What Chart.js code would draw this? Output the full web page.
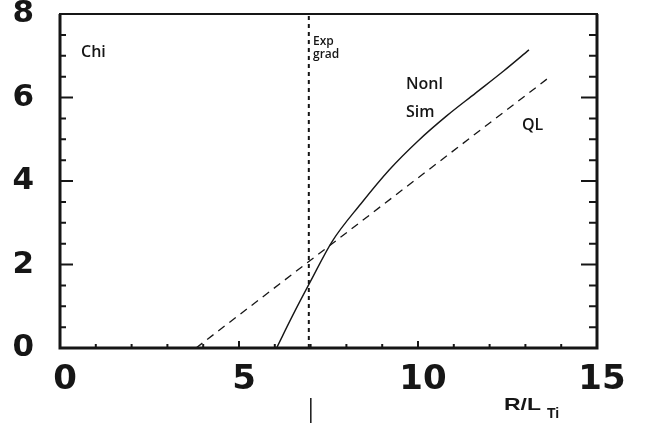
<!DOCTYPE html>
<html>
<head>
<meta charset="utf-8">
<script src="https://cdn.jsdelivr.net/npm/chart.js@4"></script>
<style>
  html, body { margin: 0; padding: 0; background: #fff; }
  #wrap { width: 651px; height: 428px; }
</style>
</head>
<body>
<div id="wrap"><canvas id="chart"></canvas></div>
<script>
// values
const simX = [6.05, 6.5, 7.0, 7.6, 8.4, 9.2, 10.0, 10.8, 11.6, 12.4, 13.1];
const simY = [0, 0.78, 1.6, 2.55, 3.45, 4.27, 4.96, 5.56, 6.1, 6.64, 7.14];
const qlX = [3.8, 13.6];
const qlY = [0, 6.44];
const expX = [6.95, 6.95];
const expY = [0, 8];
const xTicks = [0, 5, 10, 15];
const yTicks = [0, 2, 4, 6, 8];

const ink = "#161616";
const toPts = (xs, ys) => xs.map((x, i) => ({ x: x, y: ys[i] }));

// frame, inward ticks, notes and axis title
const framePlugin = {
    id: "frame",
    afterDraw(chart) {
        const ctx = chart.ctx;
        const a = chart.chartArea;
        const xs = chart.scales.x, ys = chart.scales.y;
        ctx.save();
        ctx.strokeStyle = ink;
        ctx.lineCap = "butt";

        // borders
        ctx.lineWidth = 3;
        ctx.beginPath();
        ctx.moveTo(a.left, a.top); ctx.lineTo(a.left, a.bottom); ctx.lineTo(a.right, a.bottom); ctx.lineTo(a.right, a.top);
        ctx.stroke();
        ctx.lineWidth = 2;
        ctx.beginPath();
        ctx.moveTo(a.left - 1, a.top); ctx.lineTo(a.right + 1, a.top);
        ctx.stroke();

        // y ticks every 0.5, long at labelled values
        ctx.lineWidth = 2;
        for (let v = 0.5; v < 8; v += 0.5) {
            const py = ys.getPixelForValue(v);
            const major = yTicks.includes(v);
            ctx.beginPath();
            ctx.moveTo(a.left, py); ctx.lineTo(a.left + (major ? 13 : 6), py);
            ctx.moveTo(a.right, py); ctx.lineTo(a.right - (major ? 16 : 8), py);
            ctx.stroke();
        }
        // x ticks every 1
        for (let v = 1; v < 15; v++) {
            const px = xs.getPixelForValue(v);
            const major = xTicks.includes(v);
            ctx.beginPath();
            ctx.moveTo(px, a.bottom); ctx.lineTo(px, a.bottom - (major ? 7 : 4));
            ctx.stroke();
        }

        // marker below the axis at the experimental gradient
        ctx.lineWidth = 1.5;
        const mx = xs.getPixelForValue(expX[0]) + 2;
        ctx.beginPath();
        ctx.moveTo(mx, 398); ctx.lineTo(mx, 423);
        ctx.stroke();

        // notes
        ctx.fillStyle = ink;
        ctx.textBaseline = "alphabetic";
        ctx.textAlign = "left";
        ctx.font = "600 16px 'Open Sans'";
        ctx.fillText("Chi", 81, 57);
        ctx.fillText("Nonl", 406, 89);
        ctx.fillText("Sim", 406, 117);
        ctx.fillText("QL", 522, 130);
        ctx.font = "600 12px 'Open Sans'";
        ctx.fillText("Exp", 313, 45);
        ctx.fillText("grad", 313, 58);

        // axis title R/L_Ti (wide, squat lettering)
        ctx.save();
        ctx.translate(504, 410);
        ctx.scale(1.35, 1);
        ctx.font = "bold 17px 'Liberation Sans'";
        ctx.fillText("R/L", 0, 0);
        ctx.restore();
        ctx.font = "bold 14px 'Liberation Sans'";
        ctx.fillText("Ti", 547, 418);
        ctx.restore();
    }
};

new Chart(document.getElementById("chart"), {
    type: "scatter",
    data: {
        datasets: [
            {
                label: "Nonl Sim",
                data: toPts(simX, simY),
                showLine: true,
                borderColor: ink,
                borderWidth: 1.4,
                pointRadius: 0,
                cubicInterpolationMode: "monotone"
            },
            {
                label: "QL",
                data: toPts(qlX, qlY),
                showLine: true,
                borderColor: ink,
                borderWidth: 1.3,
                borderDash: [8, 6],
                pointRadius: 0
            },
            {
                label: "Exp grad",
                data: toPts(expX, expY),
                showLine: true,
                borderColor: ink,
                borderWidth: 2,
                borderDash: [4, 4],
                pointRadius: 0
            }
        ]
    },
    options: {
        responsive: true,
        maintainAspectRatio: false,
        animation: false,
        layout: { padding: { top: 14, right: 54, left: 0, bottom: 0 } },
        plugins: { legend: { display: false }, tooltip: { enabled: false } },
        scales: {
            x: {
                type: "linear",
                min: 0, max: 15,
                grid: { display: false, drawTicks: false },
                border: { display: false },
                ticks: {
                    stepSize: 5,
                    color: ink,
                    padding: 12,
                    labelOffset: 5,
                    font: { family: "'DejaVu Sans'", size: 34, weight: "bold" }
                },
                afterFit: s => { s.height = 80; s.paddingLeft = 0; s.paddingRight = 0; }
            },
            y: {
                min: 0, max: 8,
                grid: { display: false, drawTicks: false },
                border: { display: false },
                ticks: {
                    stepSize: 2,
                    color: ink,
                    padding: 26,
                    font: { family: "'DejaVu Sans'", size: 31, weight: "bold" }
                },
                afterFit: s => { s.width = 60; s.paddingTop = 0; s.paddingBottom = 0; }
            }
        }
    },
    plugins: [framePlugin]
});
</script>
</body>
</html>
